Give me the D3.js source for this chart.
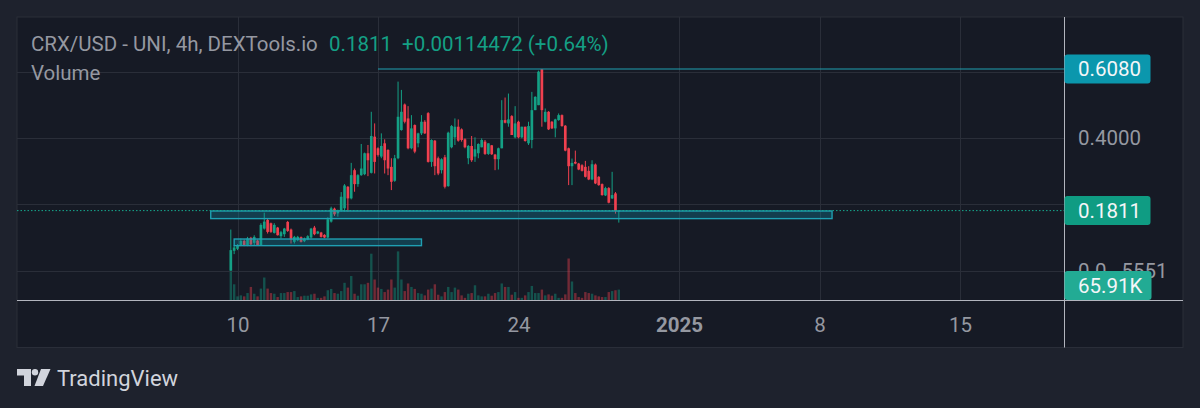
<!DOCTYPE html>
<html>
<head>
<meta charset="utf-8">
<style>
  html, body { margin: 0; padding: 0; background: #1e222d; }
  svg { display: block; font-family: Roboto, sans-serif; }
  .domain { display: none; }
  .tick line { display: none; }
</style>
<script src="https://cdn.jsdelivr.net/npm/d3@7"></script>
</head>
<body>
<div id="chart"></div>
<script>
// 4h candles
var firstCandle = new Date(2024, 11, 9, 16);
var opens = [0,.060,.066,.076,.090,.076,.099,.084,.091,.077,.127,.153,.143,.114,.130,.104,.110,.147,.124,.087,.092,.101,.089,.094,.100,.130,.112,.115,.108,.100,.148,.187,.173,.181,.188,.253,.218,.303,.261,.288,.291,.354,.295,.404,.369,.344,.384,.364,.313,.271,.339,.424,.501,.459,.369,.439,.384,.414,.449,.475,.328,.392,.339,.303,.342,.255,.372,.402,.434,.426,.396,.339,.376,.344,.354,.372,.389,.352,.378,.350,.336,.369,.454,.444,.466,.402,.449,.402,.434,.384,.394,.484,.499,.607,.449,.479,.449,.429,.454,.469,.437,.369,.315,.328,.323,.318,.313,.301,.275,.320,.283,.261,.227,.249,.218,.233,.1799];
var highs = [.124,.077,.080,.097,.094,.102,.102,.107,.094,.143,.175,.157,.145,.143,.132,.120,.129,.150,.127,.105,.105,.103,.100,.107,.129,.135,.120,.117,.110,.161,.193,.190,.184,.237,.261,.255,.325,.308,.291,.382,.356,.379,.479,.444,.372,.414,.396,.366,.339,.349,.570,.545,.504,.496,.469,.441,.416,.469,.454,.478,.396,.394,.344,.339,.349,.419,.439,.459,.456,.429,.399,.379,.406,.402,.384,.399,.394,.384,.379,.352,.371,.514,.522,.534,.469,.496,.452,.434,.434,.449,.539,.526,.603,.608,.489,.481,.451,.458,.474,.471,.439,.371,.338,.362,.325,.321,.331,.315,.333,.323,.285,.263,.253,.252,.298,.237,.1815];
var lows = [0,.050,.062,.074,.074,.074,.074,.076,.076,.076,.124,.112,.114,.112,.106,.097,.102,.117,.082,.082,.089,.085,.086,.092,.097,.107,.110,.100,.098,.098,.145,.165,.163,.178,.178,.178,.215,.238,.253,.286,.288,.285,.293,.293,.344,.339,.293,.288,.243,.268,.336,.422,.444,.366,.366,.354,.372,.409,.412,.326,.313,.288,.288,.293,.248,.253,.369,.379,.389,.389,.369,.321,.328,.328,.339,.372,.349,.349,.349,.303,.305,.369,.444,.434,.409,.399,.399,.399,.389,.379,.369,.484,.499,.434,.447,.424,.427,.402,.452,.434,.360,.258,.258,.321,.303,.299,.281,.273,.273,.261,.256,.226,.225,.203,.216,.172,.145];
var closes = [.062,.070,.076,.090,.076,.097,.079,.102,.077,.138,.148,.117,.117,.138,.107,.116,.127,.120,.094,.102,.102,.087,.097,.104,.127,.110,.118,.102,.100,.155,.188,.170,.182,.223,.257,.218,.288,.261,.288,.308,.354,.333,.406,.328,.349,.376,.333,.308,.268,.339,.464,.479,.449,.369,.429,.359,.414,.449,.414,.328,.394,.315,.293,.336,.253,.416,.436,.434,.392,.394,.372,.376,.333,.366,.382,.394,.352,.384,.351,.336,.369,.454,.446,.456,.409,.444,.402,.434,.391,.436,.484,.524,.600,.484,.479,.426,.429,.456,.469,.436,.362,.315,.325,.323,.305,.301,.283,.275,.321,.263,.258,.228,.249,.205,.228,.180,.1811];
var volumes = [174,98,25,31,25,45,82,41,25,72,139,72,45,41,21,45,45,51,51,57,21,25,29,29,37,41,16,16,25,62,70,45,41,57,107,78,148,41,29,98,98,107,283,127,78,70,51,66,127,78,297,127,57,103,82,70,45,41,31,66,72,98,35,25,51,82,51,78,66,31,16,41,45,92,31,25,25,41,29,45,51,103,82,82,35,51,16,16,31,51,88,45,45,66,31,37,29,41,16,16,37,254,115,45,21,16,51,45,41,31,25,21,21,51,57,62,65.91];

var priceTicks = [0.6, 0.4, 0.2, 0];
var timeTicks = [new Date(2024, 11, 10), new Date(2024, 11, 17), new Date(2024, 11, 24), new Date(2025, 0, 1), new Date(2025, 0, 8), new Date(2025, 0, 15)];
var lastPrice = 0.1811;
var highLevel = 0.6080;
var lastVolume = 65.91;
var zones = [
  { from: new Date(2024, 11, 8, 16), to: new Date(2025, 0, 8, 15), top: 0.180, bottom: 0.157 },
  { from: new Date(2024, 11, 9, 20), to: new Date(2024, 11, 19, 4), top: 0.0955, bottom: 0.0755 }
];

var GREEN = '#14a085', RED = '#f0404f', TEAL = '#1f9fb2', GREY = '#9598a1';
var FONT = 20.5;
var W = 1200, H = 408;
var pane = { left: 17, right: 1183, top: 17, bottom: 347.5, axisX: 1064.5, axisY: 300.5 };

var svg = d3.select('#chart').append('svg').attr('width', W).attr('height', H);

var x = d3.scaleTime().domain([timeTicks[0], timeTicks[5]]).range([237.5, 960]);
var y = d3.scaleLinear().domain([0, highLevel]).range([270.7, 69]);
var yVol = d3.scaleLinear().domain([0, lastVolume]).range([pane.axisY, 289.6]);

var dates = opens.map(function (d, i) { return d3.timeHour.offset(firstCandle, i * 4); });
var bodyW = (x(dates[1]) - x(dates[0])) * 0.8;
var isUp = function (i) { return closes[i] >= opens[i]; };

svg.append('rect')
  .attr('x', pane.left).attr('y', pane.top)
  .attr('width', pane.right - pane.left).attr('height', pane.bottom - pane.top)
  .attr('fill', '#161a25').attr('stroke', '#2a2e39');

// grid
var grid = svg.append('g').attr('stroke', '#2a2e39').attr('stroke-width', 1);
grid.selectAll('line.h').data(priceTicks).enter().append('line')
  .attr('class', 'h')
  .attr('x1', pane.left).attr('x2', pane.axisX)
  .attr('y1', function (d) { return Math.round(y(d)) + 0.5; })
  .attr('y2', function (d) { return Math.round(y(d)) + 0.5; });
grid.selectAll('line.v').data(timeTicks).enter().append('line')
  .attr('class', 'v')
  .attr('y1', pane.top).attr('y2', pane.axisY)
  .attr('x1', function (d) { return Math.round(x(d)) + 0.5; })
  .attr('x2', function (d) { return Math.round(x(d)) + 0.5; });

// volume
svg.append('g').selectAll('rect').data(volumes).enter().append('rect')
  .attr('x', function (d, i) { return x(dates[i]) - bodyW * 0.45; })
  .attr('width', bodyW * 0.9)
  .attr('y', function (d) { return yVol(d); })
  .attr('height', function (d) { return yVol(0) - yVol(d); })
  .attr('fill', function (d, i) { return isUp(i) ? GREEN : RED; })
  .attr('opacity', 0.42);

// candles
var candle = svg.append('g').selectAll('g').data(opens).enter().append('g')
  .attr('fill', function (d, i) { return isUp(i) ? GREEN : RED; })
  .attr('stroke', function (d, i) { return isUp(i) ? GREEN : RED; });
candle.append('line')
  .attr('x1', function (d, i) { return x(dates[i]); })
  .attr('x2', function (d, i) { return x(dates[i]); })
  .attr('y1', function (d, i) { return y(highs[i]); })
  .attr('y2', function (d, i) { return y(lows[i]); })
  .attr('stroke-width', 1);
candle.append('rect')
  .attr('x', function (d, i) { return x(dates[i]) - bodyW / 2; })
  .attr('width', bodyW)
  .attr('y', function (d, i) { return y(Math.max(opens[i], closes[i])); })
  .attr('height', function (d, i) { return Math.max(1, Math.abs(y(opens[i]) - y(closes[i]))); })
  .attr('stroke', 'none');

// zones and levels
svg.append('g').selectAll('rect').data(zones).enter().append('rect')
  .attr('x', function (d) { return x(d.from); })
  .attr('width', function (d) { return x(d.to) - x(d.from); })
  .attr('y', function (d) { return y(d.top); })
  .attr('height', function (d) { return y(d.bottom) - y(d.top); })
  .attr('fill', 'rgba(16,140,165,0.32)')
  .attr('stroke', TEAL).attr('stroke-width', 1.4);

svg.append('line')
  .attr('x1', x(timeTicks[1])).attr('x2', pane.axisX)
  .attr('y1', y(highLevel)).attr('y2', y(highLevel))
  .attr('stroke', TEAL).attr('stroke-width', 1.2);
svg.append('line')
  .attr('x1', pane.left).attr('x2', pane.axisX)
  .attr('y1', y(lastPrice)).attr('y2', y(lastPrice))
  .attr('stroke', '#16a98f').attr('stroke-width', 1).attr('stroke-dasharray', '1.5 2');

// axes
var isYear = function (d) { return d.getMonth() === 0 && d.getDate() === 1; };
var xAxis = d3.axisBottom(x)
  .tickValues(timeTicks)
  .tickFormat(function (d) { return isYear(d) ? d.getFullYear() : d.getDate(); });
var xG = svg.append('g').attr('transform', 'translate(0,' + pane.axisY + ')').call(xAxis);
xG.selectAll('text')
  .attr('y', 17).attr('dy', '0.71em')
  .attr('fill', GREY)
  .attr('font-size', FONT)
  .attr('font-family', 'Roboto, sans-serif')
  .attr('font-weight', function (d) { return isYear(d) ? 700 : 400; });

var yAxis = d3.axisRight(y).tickValues([0.4]).tickFormat(d3.format('.4f'));
var yG = svg.append('g').attr('transform', 'translate(' + pane.axisX + ',0)').call(yAxis);
yG.selectAll('text')
  .attr('x', 13.5)
  .attr('fill', GREY)
  .attr('font-size', FONT)
  .attr('font-family', 'Roboto, sans-serif');

// small price tick that sits behind the volume tag
var tiny = svg.append('text')
  .attr('x', 1078).attr('y', y(0) + 7)
  .attr('fill', GREY).attr('font-size', FONT);
tiny.append('tspan').text('0.0');
tiny.append('tspan').attr('dx', 15).text('5551');

svg.append('line').attr('x1', pane.left).attr('x2', pane.right)
  .attr('y1', pane.axisY).attr('y2', pane.axisY)
  .attr('stroke', '#b2b5be').attr('stroke-width', 1.2);
svg.append('line').attr('x1', pane.axisX).attr('x2', pane.axisX)
  .attr('y1', pane.top).attr('y2', pane.bottom)
  .attr('stroke', '#b2b5be').attr('stroke-width', 1);

// price tags
var tags = [
  { label: '0.6080', cy: y(highLevel), fill: '#0b97ad', w: 86 },
  { label: '0.1811', cy: y(lastPrice), fill: '#0f9c83', w: 86 },
  { label: '65.91K', cy: 285.5, fill: '#22ab94', w: 87 }
];
var tag = svg.append('g').selectAll('g').data(tags).enter().append('g');
tag.append('rect')
  .attr('x', pane.axisX).attr('y', function (d) { return d.cy - 14.5; })
  .attr('width', function (d) { return d.w; }).attr('height', 29)
  .attr('rx', 3)
  .attr('fill', function (d) { return d.fill; });
tag.append('text')
  .attr('x', 1078).attr('y', function (d) { return d.cy + 7; })
  .attr('fill', '#f4f6f8').attr('font-size', FONT)
  .text(function (d) { return d.label; });

// legend
svg.append('text').attr('x', 31).attr('y', 51)
  .attr('fill', GREY).attr('font-size', FONT)
  .text('CRX/USD - UNI, 4h, DEXTools.io');
svg.append('text').attr('x', 329).attr('y', 51)
  .attr('fill', '#14a085').attr('font-size', FONT)
  .text('0.1811');
svg.append('text').attr('x', 402).attr('y', 51)
  .attr('fill', '#14a085').attr('font-size', FONT)
  .text('+0.00114472 (+0.64%)');
svg.append('text').attr('x', 31).attr('y', 79.5)
  .attr('fill', GREY).attr('font-size', FONT)
  .text('Volume');

// TradingView mark
var logo = svg.append('g').attr('fill', '#d1d4dc');
logo.append('path').attr('d', 'M17 369H31V386H24V375.5H17Z');
logo.append('circle').attr('cx', 35).attr('cy', 372.3).attr('r', 3.2);
logo.append('path').attr('d', 'M41 369H50.5L43 386H34.5Z');
svg.append('text').attr('x', 57).attr('y', 386)
  .attr('fill', '#d1d4dc').attr('font-size', 22)
  .text('TradingView');
</script>
</body>
</html>
